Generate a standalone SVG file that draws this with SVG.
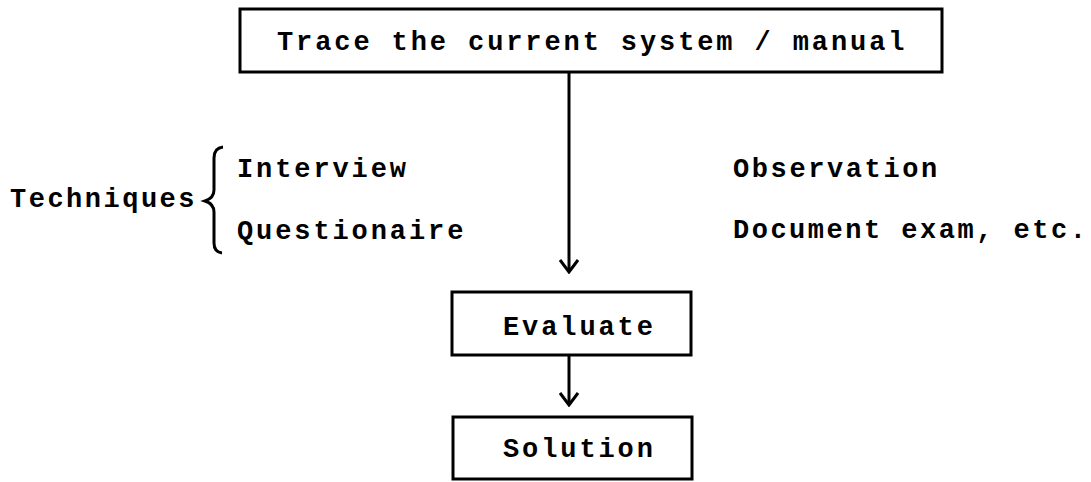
<svg xmlns="http://www.w3.org/2000/svg" width="1091" height="482" viewBox="0 0 1091 482">
  <style>
    .box { fill: #fff; stroke: #000; stroke-width: 3; }
    .t { font-family: "Liberation Mono", "DejaVu Sans Mono", monospace; font-weight: bold; font-size: 27px; letter-spacing: 2.9px; fill: #000; }
    .line { stroke: #000; stroke-width: 3; fill: none; }
  </style>
  <defs>
    <marker id="arrow" viewBox="0 0 16 20" markerWidth="16" markerHeight="20" refX="14" refY="10" orient="auto" markerUnits="userSpaceOnUse">
      <path d="M 2 1 L 14 10 L 2 19" fill="none" stroke="#000" stroke-width="3"/>
    </marker>
  </defs>
  <rect width="1091" height="482" fill="#fff"/>

  <g id="connectors">
    <line class="line" x1="569" y1="72" x2="569" y2="272" marker-end="url(#arrow)"/>
    <line class="line" x1="569" y1="355" x2="569" y2="405" marker-end="url(#arrow)"/>
  </g>

  <g id="trace">
    <rect class="box" x="240" y="9" width="702" height="63"/>
    <text class="t" x="277" y="50">Trace the current system / manual</text>
  </g>

  <g id="techniques">
    <text class="t" x="10" y="207" style="letter-spacing:2.5px">Techniques</text>
    <path class="line" stroke-width="2.5" d="M 223 147 Q 214 148 214 158 L 214 190 Q 214 198 205 201 Q 214 204 214 212 L 214 243 Q 214 252 222 253"/>
    <text class="t" x="237" y="177">Interview</text>
    <text class="t" x="237" y="239">Questionaire</text>
    <text class="t" x="733" y="177" style="letter-spacing:2.6px">Observation</text>
    <text class="t" x="733" y="238" style="letter-spacing:2.5px">Document exam, etc.</text>
  </g>

  <g id="evaluate">
    <rect class="box" x="452" y="292" width="239" height="63"/>
    <text class="t" x="503" y="335">Evaluate</text>
  </g>

  <g id="solution">
    <rect class="box" x="453" y="417" width="239" height="62"/>
    <text class="t" x="503" y="457">Solution</text>
  </g>
</svg>
